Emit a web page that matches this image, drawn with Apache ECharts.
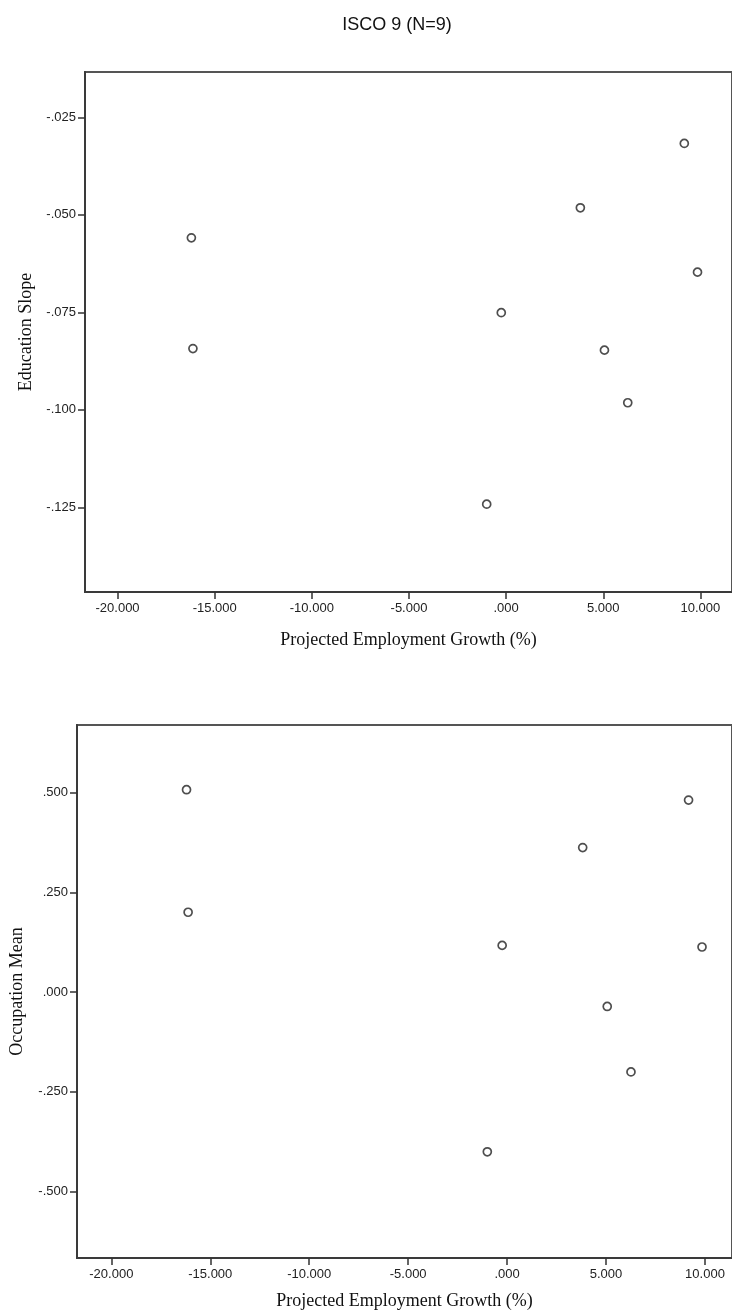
<!DOCTYPE html>
<html>
<head>
<meta charset="utf-8">
<script src="https://cdn.jsdelivr.net/npm/echarts@6/dist/echarts.min.js"></script>
<style>
  html, body { margin: 0; padding: 0; background: #fff; overflow: hidden; }
  #main { width: 732px; height: 1316px; }
</style>
</head>
<body>
<div id="main"></div>
<script>
// ---- data ----
const titleText = 'ISCO 9 (N=9)';
const growth   = [-16.2, -16.12, -0.25, -1.0, 3.82, 5.06, 6.26, 9.17, 9.85];
const eduSlope = [-0.0559, -0.0843, -0.0751, -0.1242, -0.0482, -0.0847, -0.0982, -0.0317, -0.0647];
const occMean  = [0.507, 0.200, 0.117, -0.400, 0.362, -0.036, -0.200, 0.481, 0.113];
const xTicks   = [-20, -15, -10, -5, 0, 5, 10];
const eduTicks = [-0.025, -0.05, -0.075, -0.1, -0.125];
const occTicks = [0.5, 0.25, 0, -0.25, -0.5];
const xName = 'Projected Employment Growth (%)';
const eduName = 'Education Slope';
const occName = 'Occupation Mean';

function fmt(v) {
  return Number(v).toFixed(3).replace(/^(-?)0\./, '$1.');
}

const tickLabelStyle = { fontFamily: 'Liberation Sans, Arial, sans-serif', fontSize: 13, color: '#222' };
const nameStyle = { fontFamily: 'Liberation Serif, Times New Roman, serif', fontSize: 18, color: '#111' };
const tickStyle = { lineStyle: { color: '#333', width: 1.5 } };
const axisLineCfg = { show: true, onZero: false, lineStyle: { color: '#3a3a3a', width: 2 } };

function xAxisCfg(gridIndex, min, max, margin, nameGap) {
  return {
    type: 'value', gridIndex, min, max, position: 'bottom',
    name: xName, nameLocation: 'middle', nameGap, nameTextStyle: nameStyle,
    axisLine: axisLineCfg,
    splitLine: { show: false },
    axisTick: { show: true, inside: false, length: 7, customValues: xTicks, ...tickStyle },
    axisLabel: { customValues: xTicks, formatter: fmt, margin, ...tickLabelStyle }
  };
}
function yAxisCfg(gridIndex, min, max, ticks, name, nameGap) {
  return {
    type: 'value', gridIndex, min, max, position: 'left',
    name, nameLocation: 'middle', nameGap, nameRotate: 90, nameTextStyle: nameStyle,
    axisLine: axisLineCfg,
    splitLine: { show: false },
    axisTick: { show: true, inside: false, length: 7, customValues: ticks, ...tickStyle },
    axisLabel: { customValues: ticks, formatter: fmt, margin: 9, ...tickLabelStyle }
  };
}

const markerStyle = { color: '#fff', borderColor: '#222', borderWidth: 1.7 };

const chart = echarts.init(document.getElementById('main'), null, { renderer: 'canvas' });
chart.setOption({
  animation: false,
  backgroundColor: '#fff',
  title: {
    text: titleText, left: 392, top: 11, textAlign: 'center',
    textStyle: { fontFamily: 'Liberation Sans, Arial, sans-serif', fontSize: 18, fontWeight: 'normal', color: '#111' }
  },
  grid: [
    { left: 85, top: 72, right: -3, height: 520, show: true, borderColor: '#555', borderWidth: 2, backgroundColor: 'transparent' },
    { left: 73, top: 725, right: -3, height: 533, show: true, borderColor: '#555', borderWidth: 2, backgroundColor: 'transparent' }
  ],
  xAxis: [
    xAxisCfg(0, -21.675, 11.625, 10, 39),
    xAxisCfg(1, -21.735, 11.365, 10, 34)
  ],
  yAxis: [
    yAxisCfg(0, -0.14672, -0.013385, eduTicks, eduName, 49),
    yAxisCfg(1, -0.6661, 0.6691, occTicks, occName, 51)
  ],
  series: [
    {
      type: 'scatter', xAxisIndex: 0, yAxisIndex: 0, symbol: 'circle', symbolSize: 8,
      itemStyle: markerStyle, silent: true, z: 5,
      data: growth.map((g, i) => [g, eduSlope[i]])
    },
    {
      type: 'scatter', xAxisIndex: 1, yAxisIndex: 1, symbol: 'circle', symbolSize: 8,
      itemStyle: markerStyle, silent: true, z: 5,
      data: growth.map((g, i) => [g, occMean[i]])
    }
  ]
});
</script>
</body>
</html>
